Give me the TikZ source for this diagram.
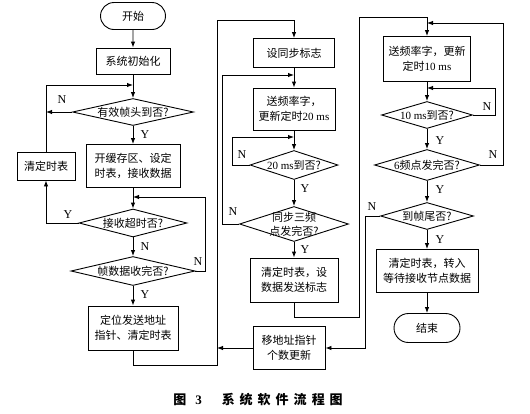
\documentclass[tikz,border=0pt]{standalone}
\usepackage{fontspec}
\setmainfont{Liberation Serif}
\newfontfamily\cjk{Noto Sans CJK SC}
\usepackage{tikz}
\usetikzlibrary{shapes.geometric, shapes.misc}
\usetikzlibrary{arrows.meta}
\newcommand{\gap}{\hspace{5pt}}

\begin{document}
\begin{tikzpicture}[x=1pt, y=-1pt,
    box/.style={draw, line width=0.9pt, align=center, inner sep=1pt,
                font=\cjk\fontsize{11}{15}\selectfont},
    term/.style={box, rounded rectangle},
    dec/.style={draw, diamond, line width=0.9pt, inner sep=0pt},
    dtext/.style={align=center, inner sep=0pt,
                  font=\cjk\fontsize{11}{14}\selectfont},
    yn/.style={inner sep=0pt, font=\fontsize{12}{13}\selectfont},
    flow/.style={line width=0.9pt, -{Latex[length=6pt,width=4.5pt]}}]
                \useasboundingbox (0,0) rectangle (530,413);
                % left column
                \node[term, minimum width=67, minimum height=27] (start) at (133,16) {开始};
                \node[box, minimum width=74, minimum height=26] (init) at (133,61) {系统初始化};
                \node[dec, minimum width=121, minimum height=27] (d1) at (133,112) {};
                \node[dtext] at (d1) {有效帧头到否?};
                \node[box, minimum width=94, minimum height=43] (buf) at (133,166) {开缓存区、设定\\时表，接收数据};
                \node[box, minimum width=58, minimum height=28] (clr) at (46,166) {清定时表};
                \node[dec, minimum width=108, minimum height=28] (d2) at (133,223) {};
                \node[dtext] at (d2) {接收超时否?};
                \node[dec, minimum width=124, minimum height=29] (d3) at (133,271) {};
                \node[dtext] at (d3) {帧数据收完否?};
                \node[box, minimum width=90, minimum height=44] (loc) at (133,328) {定位发送地址\\指针、清定时表};
                % middle column
                \node[box, minimum width=81, minimum height=29] (sync) at (294,53) {设同步标志};
                \node[box, minimum width=82, minimum height=42] (f20) at (294,109) {送频率字，\\更新定时{\rmfamily 20 ms}};
                \node[dec, minimum width=88, minimum height=29] (d4) at (294,165) {};
                \node[dtext] at (d4) {{\rmfamily 20 ms}到否?};
                \node[dec, minimum width=109, minimum height=35] (d5) at (294,224) {};
                \node[dtext] at (d5) {同步三频\\点发完否?};
                \node[box, minimum width=88, minimum height=44] (sflag) at (294,280) {清定时表，设\\数据发送标志};
                \node[box, minimum width=72, minimum height=43] (mov) at (289,348) {移地址指针\\个数更新};
                % right column
                \node[box, minimum width=87, minimum height=45] (f10) at (427,59) {送频率字，更新\\定时{\rmfamily 10 ms}};
                \node[dec, minimum width=91, minimum height=27] (d6) at (427,115) {};
                \node[dtext] at (d6) {{\rmfamily 10 ms}到否?};
                \node[dec, minimum width=105, minimum height=31] (d7) at (427,165) {};
                \node[dtext] at (d7) {{\rmfamily 6}频点发完否?};
                \node[dec, minimum width=93, minimum height=27] (d8) at (427,216) {};
                \node[dtext] at (d8) {到帧尾否?};
                \node[box, minimum width=102, minimum height=43] (wait) at (427,271) {清定时表，转入\\等待接收节点数据};
                \node[term, minimum width=68, minimum height=29] (stop) at (427,328) {结束};
                % joins
                \coordinate (m1) at (133,85);
                \coordinate (m2) at (133,197);
                \coordinate (m3) at (294,75);
                \coordinate (m4) at (294,137);
                \coordinate (m5) at (427,88);
                \coordinate (m6) at (427,23);
                \coordinate (c1) at (217,365);
                \coordinate (c2) at (294,20);
                \coordinate (c3) at (359,317);
                \coordinate (c4) at (427,17);
                % left column flow
                \draw[flow] (start) -- (init);
                \draw[flow] (init) -- (d1);
                \draw[flow] (clr.north) |- (m1);
                \draw[flow] (d1.west) -- (d1.west -| clr.north);
                \draw[flow] (d1) -- (buf);
                \draw[flow] (buf) -- (d2);
                \draw[flow] (d2.west) -| (clr.south);
                \draw[flow] (d2) -- (d3);
                \draw[flow] (d3.east) -- ++(10,0) |- (m2);
                \draw[flow] (d3) -- (loc);
                \draw[flow] (loc.south) |- (c1) |- (c2) -- (sync);
                % middle column flow
                \draw[flow] (sync) -- (f20);
                \draw[flow] (d5.west) -- ++(-17,0) |- (m3);
                \draw[flow] (f20) -- (d4);
                \draw[flow] (d4.west) -- ++(-17,0) |- (m4);
                \draw[flow] (d4) -- (d5);
                \draw[flow] (d5) -- (sflag);
                \draw[flow] (sflag.south) |- (c3) |- (c4) -- (f10);
                \draw[flow] (mov.west) -- (mov.west -| c1);
                % right column flow
                \draw[flow] (f10) -- (d6);
                \draw[flow] (d6.east) -- ++(22,0) |- (m5);
                \draw[flow] (d6) -- (d7);
                \draw[flow] (d7.east) -- ++(23,0) |- (m6);
                \draw[flow] (d7) -- (d8);
                \draw[flow] (d8) -- (wait);
                \draw[flow] (d8.west) -- ++(-15,0) |- (mov.east);
                \draw[flow] (wait) -- (stop);
                % Y and N
                \node[yn] (n1) at (62,100) {N};
                \node[yn] (y1) at (145,135) {Y};
                \node[yn] (y2) at (68,215) {Y};
                \node[yn] (n2) at (145,247) {N};
                \node[yn] (n3) at (198,262) {N};
                \node[yn] (y3) at (145,295) {Y};
                \node[yn] (n4) at (242,155) {N};
                \node[yn] (y4) at (305,189) {Y};
                \node[yn] (n5) at (233,212) {N};
                \node[yn] (y5) at (305,250) {Y};
                \node[yn] (n6) at (487,107) {N};
                \node[yn] (y6) at (440,141) {Y};
                \node[yn] (n7) at (493,155) {N};
                \node[yn] (y7) at (440,190) {Y};
                \node[yn] (n8) at (372,207) {N};
                \node[yn] (y8) at (440,240) {Y};
                % caption
                \node[font=\cjk\bfseries\fontsize{13}{15}\selectfont] (cap) at (258,400)
                    {图\hspace{9pt}{\rmfamily\bfseries 3}\hspace{20pt}系\gap 统\gap 软\gap 件\gap 流\gap 程\gap 图};
            \end{tikzpicture}
\end{document}
